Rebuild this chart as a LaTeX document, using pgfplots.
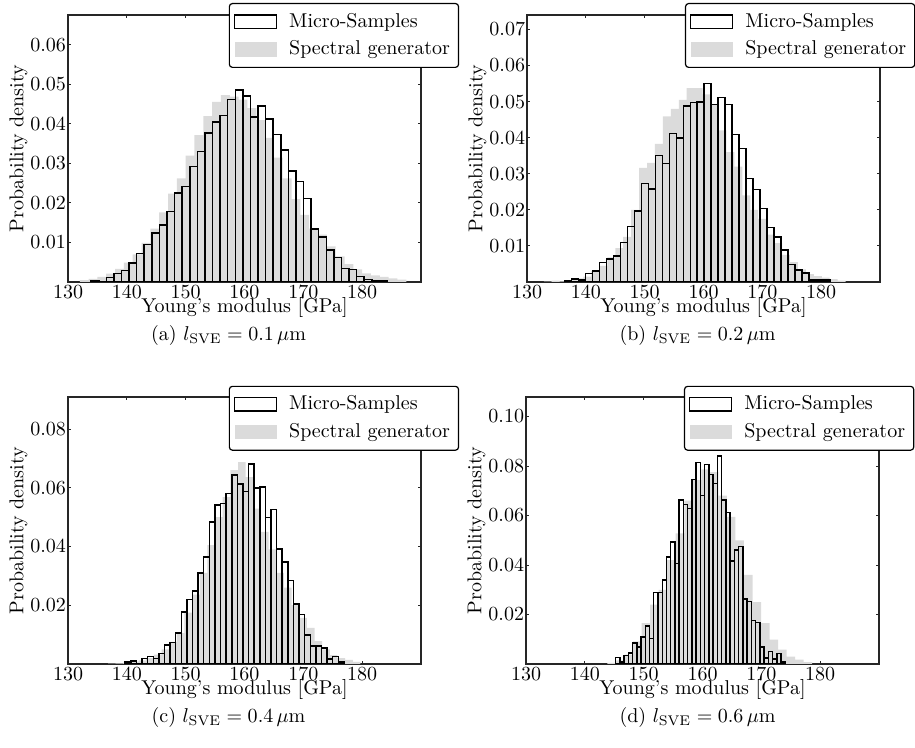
\documentclass[border=0pt]{standalone}
\usepackage{pgfplots}
\pgfplotsset{compat=1.18}
\definecolor{specgray}{gray}{0.86}
\pgfplotsset{
  myaxis/.style={
    scale only axis, width=176.5pt, height=133.5pt,
    anchor=south west,
    xmin=130, xmax=190, ymin=0,
    xtick={130,140,...,180},
    tick align=inside,
    major tick length=1.5pt,
    axis line style={black!85, line width=0.6pt},
    every tick/.style={black!85, line width=0.5pt},
    xticklabel style={inner ysep=1.5pt},
    yticklabel style={inner xsep=0.8pt},
    scaled y ticks=false,
    yticklabel={\pgfmathprintnumber[fixed,fixed zerofill,precision=2]{\tick}},
    xlabel={Young's modulus [GPa]},
    ylabel={Probability density},
    xlabel style={inner sep=0pt, yshift=2pt},
    ylabel style={inner sep=0.5pt},
    reverse legend,
    legend cell align=left,
    legend style={anchor=north east, draw=black, rounded corners=1.5pt,
      line width=0.6pt, fill=white, inner xsep=2.3pt, inner ysep=2pt,
      column sep=4pt, font=\normalsize,
      nodes={inner xsep=2pt, inner ysep=2.7pt}},
  },
  grayhist/.style={ybar interval, fill=specgray, draw=none,
    legend image code/.code={\fill[specgray, sharp corners] (0pt,-3.6pt) rectangle (21pt,3.6pt);}},
  microhist/.style={ybar interval, fill=none, draw=black, line width=0.75pt,
    legend image code/.code={\draw[black, line width=0.6pt, sharp corners] (0pt,-3.3pt) rectangle (21pt,3.3pt);}},
}
\begin{document}
\begin{tikzpicture}
\path[use as bounding box] (0pt,0pt) rectangle (457.5pt,374pt);

% (a)
\begin{axis}[myaxis, at={(34pt,233pt)}, ymax=0.0676,
  ytick={0.01,0.02,0.03,0.04,0.05,0.06},
  legend style={at={(1.108,1.045)}}]
\addplot[grayhist] coordinates {
(132,0.0005)(133.5,0.0008)(135,0.0013)(136.5,0.0021)(138,0.0033)(139.5,0.0049)
(141,0.0070)(142.5,0.0099)(144,0.0135)(145.5,0.0176)(147,0.0224)(148.5,0.0262)
(150,0.0320)(151.5,0.0372)(153,0.0420)(154.5,0.0456)(156,0.0473)(157.5,0.0469)
(159,0.0462)(160.5,0.0440)(162,0.0410)(163.5,0.0365)(165,0.0315)(166.5,0.0262)
(168,0.0210)(169.5,0.0170)(171,0.0135)(172.5,0.0120)(174,0.0090)(175.5,0.0065)
(177,0.0045)(178.5,0.0032)(180,0.0022)(181.5,0.0017)(183,0.0013)(184.5,0.0009)
(186,0.0006)(187.5,0)};
\addlegendentry{Spectral generator}
\addplot[microhist] coordinates {
(133.94,0.00034)(135.23,0)(136.52,0.00118)(137.81,0.0021)(139.10,0.00295)
(140.39,0.0048)(141.67,0.00716)(142.96,0.0095)(144.25,0.01246)(145.54,0.0144)
(146.83,0.0179)(148.12,0.02256)(149.41,0.02416)(150.70,0.0293)(151.99,0.033)
(153.28,0.0377)(154.56,0.0405)(155.85,0.0421)(157.14,0.0462)(158.43,0.04857)
(159.72,0.04705)(161.01,0.04175)(162.30,0.04453)(163.59,0.04125)(164.88,0.03737)
(166.17,0.03342)(167.45,0.02811)(168.74,0.02542)(170.03,0.02113)(171.32,0.01347)
(172.61,0.01145)(173.90,0.00816)(175.19,0.00614)(176.48,0.00345)(177.77,0.0032)
(179.06,0.00135)(180.34,0.00067)(181.63,0.00025)(182.92,0.00034)(184.21,0)};
\addlegendentry{Micro-Samples}
\end{axis}

% (b)
\begin{axis}[myaxis, at={(263.5pt,233pt)}, ymax=0.074,
  ytick={0.01,0.02,0.03,0.04,0.05,0.06,0.07},
  legend style={at={(1.1,1.045)}}]
\addplot[grayhist] coordinates {
(132.85,0.0001)(134.2,0.0004)(135.55,0.0002)(136.9,0.0005)(138.25,0.0010)
(139.6,0.0015)(140.95,0.0030)(142.3,0.0045)(143.65,0.0068)(145.0,0.0094)
(146.35,0.0125)(147.7,0.0200)(149.05,0.0316)(150.4,0.0330)(151.75,0.0383)
(153.1,0.0459)(154.45,0.0480)(155.8,0.0505)(157.15,0.0537)(158.5,0.0537)
(159.85,0.0520)(161.2,0.0490)(162.55,0.0420)(163.9,0.0360)(165.25,0.0320)
(166.6,0.0240)(167.95,0.0200)(169.3,0.0175)(170.65,0.0131)(172.0,0.0108)
(173.35,0.0075)(174.7,0.0055)(176.05,0.0035)(177.4,0.0022)(178.75,0.0016)
(180.1,0.0012)(181.45,0.0008)(182.8,0.0004)(184.15,0)};
\addlegendentry{Spectral generator}
\addplot[microhist] coordinates {
(136.40,0.0003)(137.59,0.0008)(138.77,0.0006)(139.96,0.0023)(141.14,0.003)
(142.33,0.0054)(143.52,0.0064)(144.70,0.0072)(145.89,0.011)(147.07,0.0154)
(148.26,0.0197)(149.45,0.0273)(150.63,0.0258)(151.82,0.0351)(153.00,0.0329)
(154.19,0.0412)(155.38,0.0399)(156.56,0.0488)(157.75,0.0497)(158.93,0.0499)
(160.12,0.055)(161.31,0.0492)(162.49,0.0512)(163.68,0.0492)(164.86,0.0409)
(166.05,0.037)(167.24,0.0287)(168.42,0.0257)(169.61,0.0204)(170.79,0.0151)
(171.98,0.0125)(173.17,0.0088)(174.35,0.0049)(175.54,0.0033)(176.72,0.0025)
(177.91,0.0006)(179.10,0.0006)(180.28,0.0005)(181.47,0)};
\addlegendentry{Micro-Samples}
\end{axis}

% (c)
\begin{axis}[myaxis, at={(34pt,42pt)}, ymax=0.0909,
  ytick={0.02,0.04,0.06,0.08},
  legend style={at={(1.108,1.042)}}]
\addplot[grayhist] coordinates {
(136.8,0.0001)(138.1,0.0002)(139.4,0.0005)(140.7,0.0008)(142.0,0.0012)
(143.3,0.0020)(144.6,0.0032)(145.9,0.0050)(147.2,0.0075)(148.5,0.0105)
(149.8,0.0175)(151.1,0.0236)(152.4,0.0310)(153.7,0.0405)(155.0,0.0500)
(156.3,0.0568)(157.6,0.0660)(158.9,0.0687)(160.2,0.0636)(161.5,0.0529)
(162.8,0.0450)(164.1,0.0390)(165.4,0.0310)(166.7,0.0260)(168.0,0.0200)
(169.3,0.0157)(170.6,0.0123)(171.9,0.0078)(173.2,0.0050)(174.5,0.0030)
(175.8,0.0020)(177.1,0.0014)(178.4,0.0007)(179.7,0)};
\addlegendentry{Spectral generator}
\addplot[microhist] coordinates {
(139.73,0.0006)(140.68,0.0010)(141.64,0.0002)(142.59,0.0018)(143.54,0.0026)
(144.50,0.0019)(145.45,0.0035)(146.40,0.0064)(147.35,0.0073)(148.31,0.0106)
(149.26,0.0177)(150.21,0.0219)(151.17,0.0248)(152.12,0.0310)(153.07,0.0364)
(154.03,0.0484)(154.98,0.0541)(155.93,0.0546)(156.88,0.0581)(157.84,0.0643)
(158.79,0.0612)(159.74,0.0587)(160.70,0.0681)(161.65,0.0599)(162.60,0.0602)
(163.56,0.0498)(164.51,0.0526)(165.46,0.0392)(166.41,0.0348)(167.37,0.0285)
(168.32,0.0204)(169.27,0.0168)(170.23,0.0098)(171.18,0.0061)(172.13,0.0061)
(173.09,0.0055)(174.04,0.0017)(174.99,0.0026)(175.94,0.0006)(176.90,0)};
\addlegendentry{Micro-Samples}
\end{axis}

% (d)
\begin{axis}[myaxis, at={(263pt,42pt)}, ymax=0.1079,
  ytick={0.02,0.04,0.06,0.08,0.10},
  legend style={at={(1.1,1.042)}}]
\addplot[grayhist] coordinates {
(143.85,0.0005)(145.3,0.0015)(146.75,0.0038)(148.2,0.0091)(149.65,0.0165)
(151.1,0.0240)(152.55,0.0300)(154.0,0.0420)(155.45,0.0528)(156.9,0.0660)
(158.35,0.0743)(159.8,0.0786)(161.25,0.0775)(162.7,0.0680)(164.15,0.0595)
(165.6,0.0500)(167.05,0.0360)(168.5,0.0250)(169.95,0.0165)(171.4,0.0098)
(172.85,0.0058)(174.3,0.0030)(175.75,0.0018)(177.2,0.0008)(178.65,0)};
\addlegendentry{Spectral generator}
\addplot[microhist] coordinates {
(145.22,0.0026)(145.94,0.0009)(146.66,0.0034)(147.38,0.0044)(148.11,0.0085)
(148.83,0.0069)(149.55,0.0109)(150.27,0.0153)(150.99,0.0103)(151.71,0.0289)
(152.44,0.0289)(153.16,0.0340)(153.88,0.0433)(154.60,0.0492)(155.32,0.0407)
(156.04,0.0663)(156.76,0.0645)(157.49,0.0629)(158.21,0.0746)(158.93,0.0815)
(159.65,0.0680)(160.37,0.0806)(161.09,0.0765)(161.81,0.0730)(162.54,0.0841)
(163.26,0.0663)(163.98,0.0613)(164.70,0.0417)(165.42,0.0460)(166.14,0.0474)
(166.87,0.0262)(167.59,0.0253)(168.31,0.0176)(169.03,0.0168)(169.75,0.0069)
(170.47,0.0024)(171.19,0.0051)(171.92,0.0020)(172.64,0.0042)(173.36,0.0008)
(174.08,0)};
\addlegendentry{Micro-Samples}
\end{axis}

\node at (114.25pt,206pt) {(a) $l_{\mathrm{SVE}} = 0.1\,\mu$m};
\node at (348.75pt,206pt) {(b) $l_{\mathrm{SVE}} = 0.2\,\mu$m};
\node at (114.25pt,15pt) {(c) $l_{\mathrm{SVE}} = 0.4\,\mu$m};
\node at (348.75pt,15pt) {(d) $l_{\mathrm{SVE}} = 0.6\,\mu$m};
\end{tikzpicture}
\end{document}
